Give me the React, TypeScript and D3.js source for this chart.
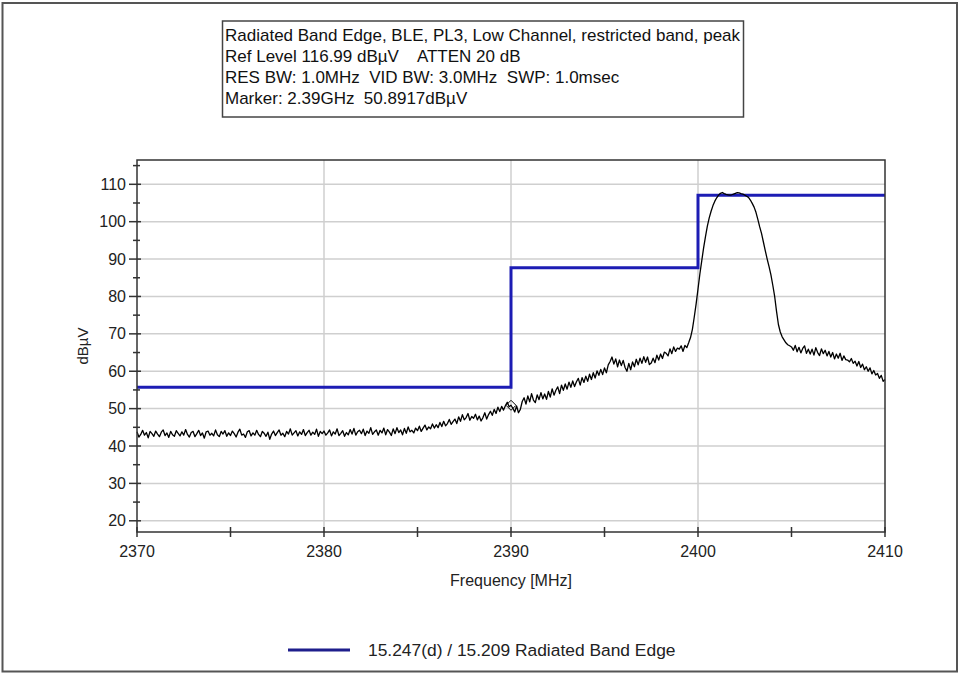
import React from "react";
import * as d3 from "d3";

// Header block printed above the plot
const headerLines = [
  "Radiated Band Edge, BLE, PL3, Low Channel, restricted band, peak",
  "Ref Level 116.99 dB\u00b5V    ATTEN 20 dB",
  "RES BW: 1.0MHz  VID BW: 3.0MHz  SWP: 1.0msec",
  "Marker: 2.39GHz  50.8917dB\u00b5V",
];

const xTicks = [2370, 2380, 2390, 2400, 2410];
const xMinorTicks = [2375, 2385, 2395, 2405];
const yTicks = [20, 30, 40, 50, 60, 70, 80, 90, 100, 110];
const yMinorTicks = [25, 35, 45, 55, 65, 75, 85, 95, 105, 115];

// Limit line (15.247(d) / 15.209), stepping up at each band edge
const limitFreqs = [2370, 2390, 2400, 2410];
const limitLevels = [55.7, 87.7, 107.1, 107.1];

// Measured sweep: 2370 MHz .. 2410 MHz, one point every 0.1 MHz
const sweepStart = 2370;
const sweepStep = 0.1;
const sweepLevels = [
  // 2370
  43.8, 42.4, 43.1, 44.2, 42.9, 43.6, 42.2, 43.9, 43.3, 42.6,
  // 2371
  44.0, 43.2, 42.5, 43.7, 44.3, 42.8, 43.5, 42.3, 43.9, 43.0,
  // 2372
  42.6, 44.1, 43.4, 42.7, 43.8, 42.9, 44.4, 43.1, 42.4, 43.6,
  // 2373
  43.9, 42.5, 43.3, 44.2, 42.8, 43.5, 42.1, 43.8, 44.0, 42.9,
  // 2374
  43.4, 42.7, 44.3, 43.0, 42.5, 43.9, 43.2, 44.1, 42.6, 43.5,
  // 2375
  42.8, 44.0, 43.3, 42.4, 43.7, 44.5, 42.9, 43.2, 42.3, 43.8,
  // 2376
  44.1, 42.7, 43.5, 42.9, 44.2, 43.1, 42.5, 43.9, 43.4, 42.6,
  // 2377
  43.7, 41.8, 43.2, 44.0, 42.8, 43.6, 44.3, 42.9, 43.4, 42.5,
  // 2378
  43.9, 43.2, 44.6, 42.9, 43.5, 44.1, 42.7, 43.8, 43.1, 44.4,
  // 2379
  42.8, 43.6, 44.2, 42.9, 43.7, 43.1, 44.5, 42.6, 43.9, 43.3,
  // 2380
  44.0, 42.9, 43.5, 44.3, 42.7, 43.8, 43.2, 44.6, 42.8, 43.4,
  // 2381
  44.1, 42.6, 43.6, 43.0, 44.4, 43.2, 44.7, 42.9, 43.8, 44.2,
  // 2382
  43.3, 44.5, 42.8, 44.0, 43.4, 44.9, 43.1, 43.8, 44.3, 42.9,
  // 2383
  44.2, 43.5, 44.8, 43.0, 44.4, 43.7, 42.8, 44.6, 43.3, 44.9,
  // 2384
  43.6, 44.3, 43.0, 44.7, 43.4, 45.1, 43.8, 44.2, 43.5, 44.8,
  // 2385
  44.1, 45.3, 43.9, 44.8, 45.6, 44.3, 45.1, 44.6, 45.9, 44.8,
  // 2386
  45.7, 44.9, 46.3, 45.2, 46.6, 45.4, 46.0, 47.1, 45.8, 46.5,
  // 2387
  47.2, 46.0, 47.8, 46.6, 48.4, 47.0, 47.6, 48.7, 46.9, 47.9,
  // 2388
  47.4, 48.5, 47.0, 48.0, 46.7, 47.6, 48.9, 47.2, 48.4, 49.3,
  // 2389
  48.2, 49.8, 48.7, 50.4, 49.2, 50.6, 49.6, 50.8, 51.7, 50.5,
  // 2390
  50.9, 50.1, 49.1, 50.7, 48.9, 49.8, 51.9, 52.9, 51.2, 53.4,
  // 2391
  51.8, 54.0, 52.3, 51.6, 53.7, 52.4, 54.3, 52.6, 53.9, 52.5,
  // 2392
  54.6, 53.1, 55.3, 53.6, 54.9, 55.8, 54.0, 56.3, 54.9, 56.6,
  // 2393
  55.2, 57.1, 55.7, 57.4, 55.9, 57.2, 58.1, 56.3, 58.3, 57.0,
  // 2394
  58.7, 57.3, 59.2, 57.8, 59.6, 58.2, 60.1, 58.9, 60.5, 59.1,
  // 2395
  60.9, 59.6, 61.7, 62.6, 63.8, 61.9, 63.3, 61.2, 63.0, 61.5,
  // 2396
  62.9, 61.0, 60.0, 62.1, 60.4, 62.5, 61.2, 63.2, 61.7, 63.5,
  // 2397
  62.1, 63.9, 62.4, 63.8, 61.8, 62.2, 63.5, 62.3, 64.3, 63.0,
  // 2398
  64.6, 63.4, 65.1, 64.8, 64.1, 66.0, 64.7, 66.5, 65.3, 66.2,
  // 2399
  65.9, 66.8, 65.3, 66.9, 66.3, 67.6, 69.0, 71.2, 74.5, 78.0,
  // 2400
  82.0, 86.0, 89.5, 93.0, 96.0, 98.8, 101.0, 102.8, 104.3, 105.5,
  // 2401
  106.4, 107.1, 107.6, 107.8, 107.5, 107.3, 107.2, 107.1, 107.2, 107.4,
  // 2402
  107.6, 107.8, 107.7, 107.5, 107.4, 107.1, 106.8, 106.5, 105.8, 104.9,
  // 2403
  103.9, 102.5, 100.6, 98.6, 96.8, 94.5, 92.2, 90.0, 88.0, 85.8,
  // 2404
  83.0, 80.0, 76.0, 72.5, 70.5, 69.2, 68.4, 67.6, 67.1, 66.8,
  // 2405
  66.5, 65.6, 66.9, 65.2, 66.4, 64.9, 66.1, 66.8, 64.8, 65.9,
  // 2406
  64.6, 65.9, 64.3, 66.3, 65.0, 64.2, 66.0, 64.7, 65.6, 64.1,
  // 2407
  65.3, 63.8, 65.0, 63.3, 64.6, 63.5, 64.8, 62.9, 64.1, 63.1,
  // 2408
  63.0, 62.5, 63.4, 62.1, 62.7, 61.4, 62.6, 61.0, 61.9, 60.4,
  // 2409
  61.2, 60.0, 60.9, 59.3, 60.2, 59.0, 59.4, 58.1, 58.9, 57.3,
  // 2410
  57.8,
];

const markerFreq = 2390;
const markerLevel = 50.8917;

const legendLabel = "15.247(d) / 15.209 Radiated Band Edge";
const xTitle = "Frequency [MHz]";
const yTitle = "dB\u00b5V";

const W = 960;
const H = 675;
const FONT = "'Liberation Sans', Arial, sans-serif";

export default function App() {
  const x = d3.scaleLinear().domain([2370, 2410]).range([137, 885]);
  const y = d3.scaleLinear().domain([17, 116.5]).range([532, 160]);
  const [x0, x1] = x.range();
  const [yb, yt] = y.range();

  const sweep: [number, number][] = sweepLevels.map((v, i) => [
    sweepStart + i * sweepStep,
    v,
  ]);
  const traceLine = d3
    .line<[number, number]>()
    .x((d) => x(d[0]))
    .y((d) => y(d[1]));

  const limitLine = d3
    .line<number>()
    .x((_, i) => x(limitFreqs[i]))
    .y((d) => y(d))
    .curve(d3.curveStepAfter);

  const mx = x(markerFreq);
  const my = y(markerLevel);

  return (
    <svg
      width={W}
      height={H}
      style={{ position: "absolute", left: 0, top: 0, background: "#fff" }}
      fontFamily={FONT}
    >
      <rect x={0} y={0} width={W} height={H} fill="#fff" />
      {/* outer frame */}
      <rect x={2.5} y={3} width={954.5} height={668.5} fill="none" stroke="#555" strokeWidth={2} />

      {/* header block */}
      <rect x={222.5} y={21} width={521} height={96} fill="#fff" stroke="#444" strokeWidth={1.5} />
      {headerLines.map((t, i) => (
        <text
          key={i}
          x={225}
          y={41 + i * 21}
          fontSize={17}
          fill="#111"
          style={{ whiteSpace: "pre" }}
        >
          {t}
        </text>
      ))}

      {/* grid */}
      {yTicks.map((t) => (
        <line key={"gy" + t} x1={x0} x2={x1} y1={y(t)} y2={y(t)} stroke="#cfcfcf" strokeWidth={1.5} />
      ))}
      {xTicks.slice(1, -1).map((t) => (
        <line key={"gx" + t} x1={x(t)} x2={x(t)} y1={yt} y2={yb} stroke="#cfcfcf" strokeWidth={1.5} />
      ))}

      {/* limit line */}
      <path d={limitLine(limitLevels) ?? ""} fill="none" stroke="#1c1cb4" strokeWidth={3} />

      {/* measured trace */}
      <path d={traceLine(sweep) ?? ""} fill="none" stroke="#000" strokeWidth={1.3} strokeLinejoin="round" />

      {/* marker */}
      <path
        d={`M${mx},${my - 5} L${mx + 5},${my} L${mx},${my + 5} L${mx - 5},${my} Z`}
        fill="none"
        stroke="#000"
        strokeWidth={1}
      />

      {/* plot frame */}
      <rect x={x0} y={yt} width={x1 - x0} height={yb - yt} fill="none" stroke="#333" strokeWidth={1.5} />

      {/* y axis ticks */}
      {yTicks.map((t) => (
        <g key={"yt" + t}>
          <line x1={x0 - 8} x2={x0 + 4} y1={y(t)} y2={y(t)} stroke="#333" strokeWidth={1.5} />
          <text x={x0 - 11} y={y(t)} dy="0.35em" textAnchor="end" fontSize={16} fill="#222">
            {t}
          </text>
        </g>
      ))}
      {yMinorTicks.map((t) => (
        <line key={"ym" + t} x1={x0 - 4} x2={x0 + 3} y1={y(t)} y2={y(t)} stroke="#333" strokeWidth={1.5} />
      ))}

      {/* x axis ticks */}
      {xTicks.map((t) => (
        <g key={"xt" + t}>
          <line x1={x(t)} x2={x(t)} y1={yb - 5} y2={yb + 5} stroke="#333" strokeWidth={1.5} />
          <text x={x(t)} y={yb + 25} textAnchor="middle" fontSize={16} fill="#222">
            {t}
          </text>
        </g>
      ))}
      {xMinorTicks.map((t) => (
        <line key={"xm" + t} x1={x(t)} x2={x(t)} y1={yb - 5} y2={yb + 5} stroke="#333" strokeWidth={1.5} />
      ))}

      {/* axis titles */}
      <text x={(x0 + x1) / 2} y={586} textAnchor="middle" fontSize={16} fill="#222">
        {xTitle}
      </text>
      <text
        transform={`translate(88,${(yt + yb) / 2}) rotate(-90)`}
        textAnchor="middle"
        fontSize={15}
        fill="#222"
      >
        {yTitle}
      </text>

      {/* legend */}
      <line x1={288} x2={350} y1={650} y2={650} stroke="#1e1e8c" strokeWidth={3} />
      <text x={368} y={656} fontSize={17.4} fill="#222">
        {legendLabel}
      </text>
    </svg>
  );
}
